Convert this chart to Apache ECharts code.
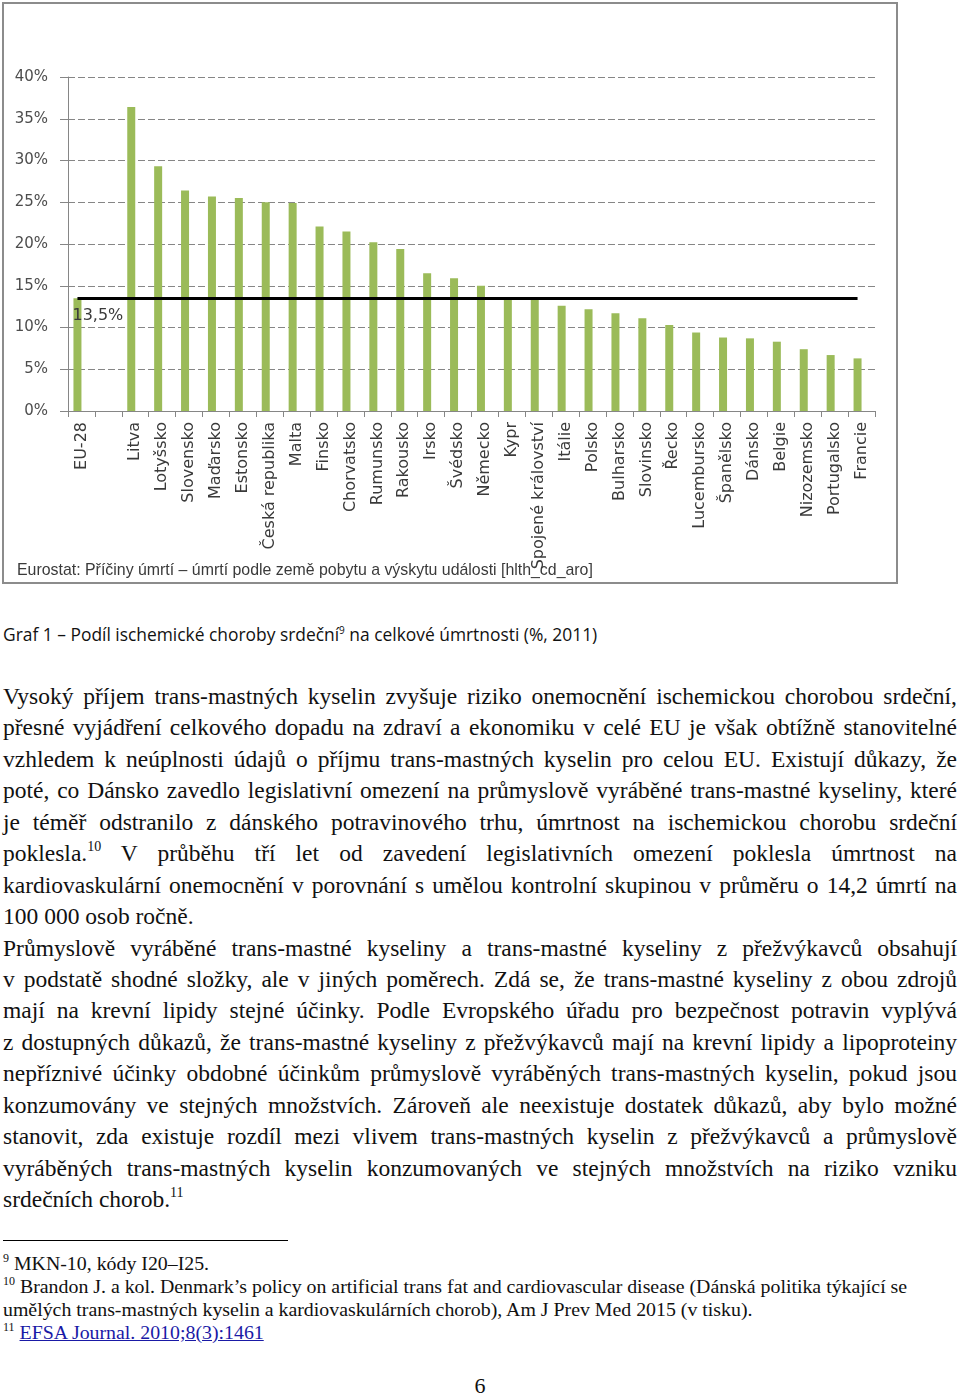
<!DOCTYPE html>
<html>
<head>
<meta charset="utf-8">
<script src="https://cdn.jsdelivr.net/npm/echarts@6/dist/echarts.min.js"></script>
<style>
  html, body { margin: 0; padding: 0; background: #fff; width: 960px; height: 1394px; overflow: hidden; }
  #chart { position: absolute; left: 0; top: 0; width: 900px; height: 590px; }
  .caption { position: absolute; left: 3px; top: 622px; font-family: "Open Sans", Lato, sans-serif; font-size: 17.4px; color: #111; white-space: nowrap; }
  .caption sup { font-size: 10px; vertical-align: 7px; line-height: 0; }
  .body { position: absolute; left: 3px; top: 681px; width: 954px; font-family: "Liberation Serif", "Times New Roman", serif; font-size: 23.5px; line-height: 31.45px; color: #111; }
  .ln { white-space: nowrap; text-align: justify; text-align-last: justify; height: 31.45px; }
  .ln.last { text-align-last: left; }
  .body sup { font-size: 14px; vertical-align: 10px; line-height: 0; }
  .sep { position: absolute; left: 3px; top: 1240px; width: 285px; height: 0; border-top: 1.5px solid #000; }
  .fn { position: absolute; left: 3px; top: 1252px; width: 954px; font-family: "Liberation Serif", "Times New Roman", serif; font-size: 19.85px; line-height: 23px; color: #111; }
  .fn div { white-space: nowrap; }
  .fn sup { font-size: 12px; vertical-align: 8px; line-height: 0; }
  .fn a { color: #1a1aa6; text-decoration: underline; }
  .page { position: absolute; left: 470px; top: 1373px; width: 20px; text-align: center; font-family: "Liberation Serif", serif; font-size: 22px; color: #111; }
</style>
</head>
<body>
<div id="chart"></div>
<div class="caption">Graf 1 – Podíl ischemické choroby srdeční<sup>9</sup> na celkové úmrtnosti (%, 2011)</div>
<div class="body">
  <div class="ln">Vysoký příjem trans-mastných kyselin zvyšuje riziko onemocnění ischemickou chorobou srdeční,</div>
  <div class="ln">přesné vyjádření celkového dopadu na zdraví a ekonomiku v celé EU je však obtížně stanovitelné</div>
  <div class="ln">vzhledem k neúplnosti údajů o příjmu trans-mastných kyselin pro celou EU. Existují důkazy, že</div>
  <div class="ln">poté, co Dánsko zavedlo legislativní omezení na průmyslově vyráběné trans-mastné kyseliny, které</div>
  <div class="ln">je téměř odstranilo z dánského potravinového trhu, úmrtnost na ischemickou chorobu srdeční</div>
  <div class="ln">poklesla.<sup>10</sup> V průběhu tří let od zavedení legislativních omezení poklesla úmrtnost na</div>
  <div class="ln">kardiovaskulární onemocnění v porovnání s umělou kontrolní skupinou v průměru o 14,2 úmrtí na</div>
  <div class="ln last">100 000 osob ročně.</div>
  <div class="ln">Průmyslově vyráběné trans-mastné kyseliny a trans-mastné kyseliny z přežvýkavců obsahují</div>
  <div class="ln">v podstatě shodné složky, ale v jiných poměrech. Zdá se, že trans-mastné kyseliny z obou zdrojů</div>
  <div class="ln">mají na krevní lipidy stejné účinky. Podle Evropského úřadu pro bezpečnost potravin vyplývá</div>
  <div class="ln">z dostupných důkazů, že trans-mastné kyseliny z přežvýkavců mají na krevní lipidy a lipoproteiny</div>
  <div class="ln">nepříznivé účinky obdobné účinkům průmyslově vyráběných trans-mastných kyselin, pokud jsou</div>
  <div class="ln">konzumovány ve stejných množstvích. Zároveň ale neexistuje dostatek důkazů, aby bylo možné</div>
  <div class="ln">stanovit, zda existuje rozdíl mezi vlivem trans-mastných kyselin z přežvýkavců a průmyslově</div>
  <div class="ln">vyráběných trans-mastných kyselin konzumovaných ve stejných množstvích na riziko vzniku</div>
  <div class="ln last">srdečních chorob.<sup>11</sup></div>
</div>
<div class="sep"></div>
<div class="fn">
  <div><sup>9</sup> MKN-10, kódy I20–I25.</div>
  <div><sup>10</sup> Brandon J. a kol. Denmark’s policy on artificial trans fat and cardiovascular disease (Dánská politika týkající se</div>
  <div>umělých trans-mastných kyselin a kardiovaskulárních chorob), Am J Prev Med 2015 (v tisku).</div>
  <div><sup>11</sup> <a>EFSA Journal. 2010;8(3):1461</a></div>
</div>
<div class="page">6</div>
<script>
const categories = ['EU-28', '', 'Litva', 'Lotyšsko', 'Slovensko', 'Maďarsko', 'Estonsko', 'Česká republika', 'Malta', 'Finsko', 'Chorvatsko', 'Rumunsko', 'Rakousko', 'Irsko', 'Švédsko', 'Německo', 'Kypr', 'Spojené království', 'Itálie', 'Polsko', 'Bulharsko', 'Slovinsko', 'Řecko', 'Lucembursko', 'Španělsko', 'Dánsko', 'Belgie', 'Nizozemsko', 'Portugalsko', 'Francie'];
const shareValues = [13.5, null, 36.4, 29.3, 26.4, 25.7, 25.5, 25.0, 24.9, 22.1, 21.5, 20.2, 19.4, 16.5, 15.9, 15.0, 13.4, 13.3, 12.6, 12.2, 11.7, 11.1, 10.3, 9.4, 8.8, 8.7, 8.3, 7.4, 6.7, 6.3];
const euAverage = 13.5;
const yTicks = { min: 0, max: 40, interval: 5 };
const sourceText = 'Eurostat: Příčiny úmrtí – úmrtí podle země pobytu a výskytu události [hlth_cd_aro]';

const chart = echarts.init(document.getElementById('chart'), null, { renderer: 'canvas' });
const gray = '#868686';
chart.setOption({
  animation: false,
  backgroundColor: '#fff',
  grid: { left: 68, top: 77, right: 25, bottom: 179, containLabel: false },
  xAxis: {
    type: 'category',
    data: categories,
    axisLine: { show: true, lineStyle: { color: gray, width: 1 } },
    axisTick: { show: true, alignWithLabel: false, interval: 0, length: 6, lineStyle: { color: gray } },
    axisLabel: { interval: 0, rotate: 90, margin: 11, color: '#3a3a3a', fontFamily: 'DejaVu Sans', fontSize: 16 }
  },
  yAxis: {
    type: 'value',
    min: yTicks.min, max: yTicks.max, interval: yTicks.interval,
    axisLine: { show: true, lineStyle: { color: gray, width: 1 } },
    axisTick: { show: true, length: 8, lineStyle: { color: gray } },
    axisLabel: { formatter: '{value}%', margin: 20, color: '#4d4d4d', fontFamily: 'DejaVu Sans', fontSize: 15 },
    splitLine: { show: true, lineStyle: { color: gray, type: [7, 3], width: 1 } }
  },
  series: [
    {
      type: 'bar',
      data: shareValues,
      barWidth: 8,
      barGap: '0%',
      itemStyle: { color: '#9BBB59' },
      markLine: {
        silent: true,
        symbol: ['none', 'none'],
        lineStyle: { color: '#000', width: 3, type: 'solid' },
        label: {
          show: true,
          position: 'insideStartBottom',
          distance: [-5, 10],
          formatter: String(euAverage).replace('.', ',') + '%',
          color: '#3a3a3a', fontFamily: 'DejaVu Sans', fontSize: 16
        },
        data: [[{ coord: [categories[0], euAverage] }, { coord: [categories[categories.length - 1], euAverage] }]]
      }
    },
    { type: 'bar', data: categories.map(() => null), barWidth: 8, barGap: '0%', silent: true }
  ],
  graphic: [
    { type: 'rect', shape: { x: 3, y: 3, width: 894, height: 580 }, style: { fill: 'none', stroke: '#8c8c8c', lineWidth: 2 }, silent: true },
    { type: 'text', left: 17, top: 563, style: { text: sourceText, fill: '#3a3a3a', font: '15.9px "Liberation Sans", Arial, sans-serif' } }
  ]
});
</script>
</body>
</html>
